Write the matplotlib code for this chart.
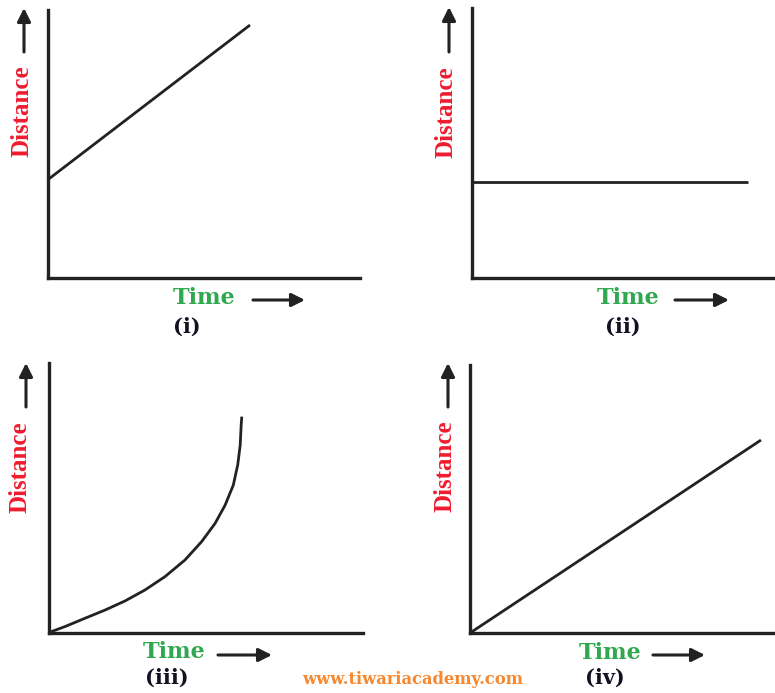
import numpy as np
import matplotlib.pyplot as plt

# Данные (время / расстояние), шкала 0..10
labels = ["(i)", "(ii)", "(iii)", "(iv)"]

t1 = [0, 6.48]
d1 = [3.67, 9.44]

t2 = [0, 9.1]
d2 = [3.56, 3.56]

t3 = [0, 0.51, 1.15, 1.78, 2.42, 3.06, 3.69, 4.33, 4.86, 5.29, 5.61, 5.87, 6.01, 6.09, 6.12, 6.14]
d3 = [0, 0.22, 0.53, 0.83, 1.17, 1.58, 2.07, 2.69, 3.37, 4.05, 4.73, 5.47, 6.22, 6.96, 7.70, 8.01]

t4 = [0, 9.54]
d4 = [0, 7.2]

series = [(t1, d1), (t2, d2), (t3, d3), (t4, d4)]

# Раскладка в пикселях (отсчёт y сверху)
W, H = 775, 693
axes_px = [(47.5, 278.5, 360, 10), (472, 277.5, 775, 8),
           (49, 632.5, 363, 363), (470, 633, 775, 365)]
up_arrow = [(24, 52, 8), (449, 52, 7), (26, 407, 363), (448, 407, 363)]
right_arrow = [(300, 253, 305), (300, 675, 729), (655, 218, 272), (655, 653, 705)]
time_pos = [(204, 298), (628, 298), (174, 652), (610, 653)]
dist_pos = [(22, 111), (446, 112), (20, 467), (445, 466)]
label_pos = [(187, 327), (623, 327), (167, 678), (605, 678)]

ink = "#222222"
red = "#ee1c2e"
green = "#2fa84f"
orange = "#f7882f"


def fx(px):
    return px / W


def fy(py):
    return (H - py) / H


fig = plt.figure(figsize=(W / 100, H / 100), dpi=100)
plt.rcParams["font.family"] = "DejaVu Serif"

for i, (t, d) in enumerate(series):
    x0, y0, x1, ytop = axes_px[i]
    ax = fig.add_axes([fx(x0), fy(y0), (x1 - x0) / W, (y0 - ytop) / H])
    ax.plot(t, d, color=ink, lw=2.0, solid_capstyle="butt", solid_joinstyle="round",
            clip_on=False)
    ax.set_xlim(0, 10)
    ax.set_ylim(0, 10)
    for s in ["top", "right"]:
        ax.spines[s].set_visible(False)
    for s in ["left", "bottom"]:
        ax.spines[s].set_linewidth(2.4)
        ax.spines[s].set_color(ink)
    ax.set_xticks([])
    ax.set_yticks([])
    ax.patch.set_alpha(0)

    # стрелки осей
    ux, uy0, uy1 = up_arrow[i]
    fig.add_artist(plt.matplotlib.patches.FancyArrowPatch(
        (fx(ux), fy(uy0)), (fx(ux), fy(uy1)), transform=fig.transFigure,
        arrowstyle="-|>", mutation_scale=20, lw=2.2, color=ink, shrinkA=0, shrinkB=0))
    ry, rx0, rx1 = right_arrow[i]
    fig.add_artist(plt.matplotlib.patches.FancyArrowPatch(
        (fx(rx0), fy(ry)), (fx(rx1), fy(ry)), transform=fig.transFigure,
        arrowstyle="-|>", mutation_scale=20, lw=2.2, color=ink, shrinkA=0, shrinkB=0))

    # подписи
    tx, ty = time_pos[i]
    fig.text(fx(tx), fy(ty), "Time", color=green, fontsize=16, fontweight="bold",
             ha="center", va="center")
    dx, dy = dist_pos[i]
    fig.text(fx(dx), fy(dy), "Distance", color=red, fontsize=18, fontweight="bold",
             family="Liberation Serif", ha="center", va="center", rotation=90)
    lx, ly = label_pos[i]
    fig.text(fx(lx), fy(ly), labels[i], color="#111122", fontsize=15, fontweight="bold",
             ha="center", va="center")

fig.text(fx(413), fy(679), "www.tiwariacademy.com", color=orange, fontsize=11.8,
         fontweight="bold", ha="center", va="center")

fig.savefig("out.png", dpi=100, facecolor="white")
